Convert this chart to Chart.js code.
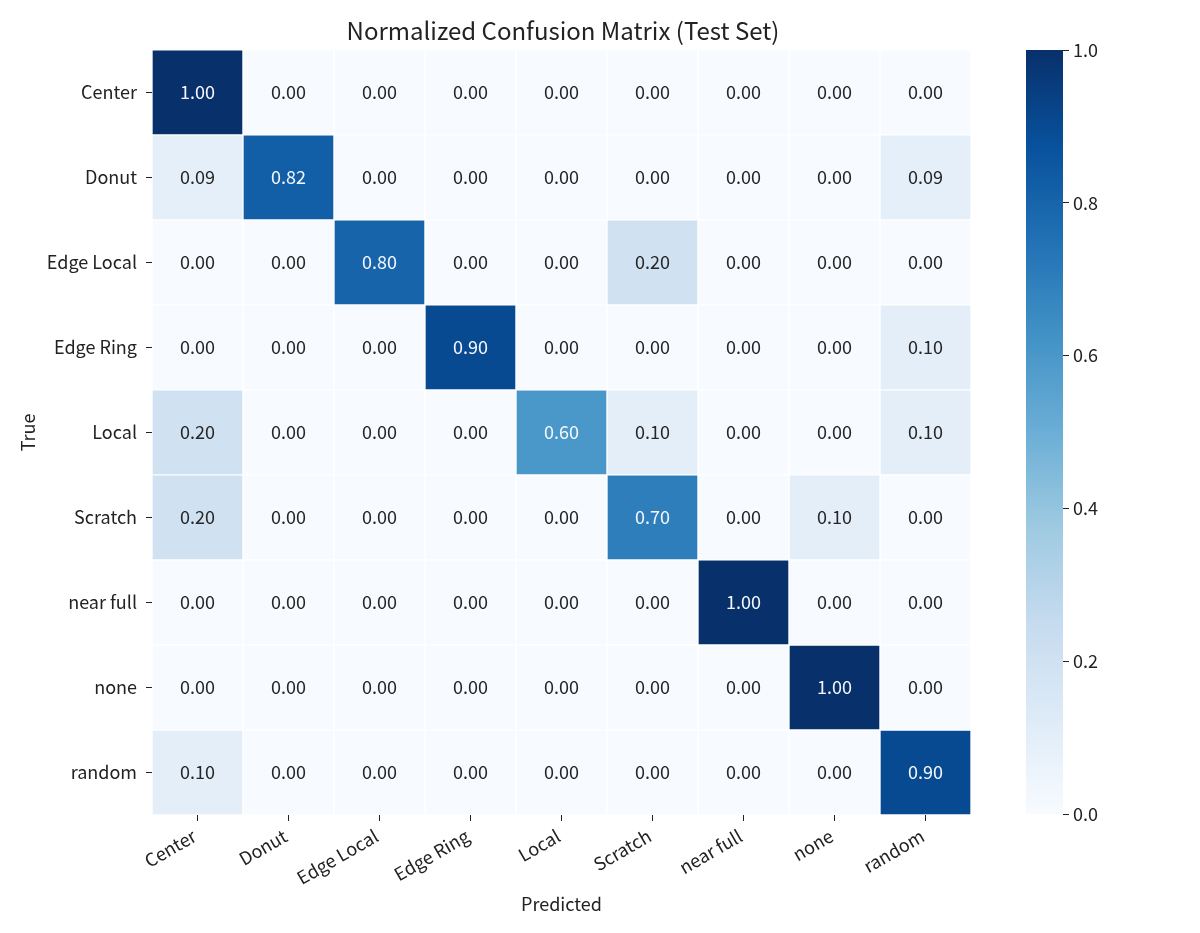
<!DOCTYPE html>
<html>
<head>
<meta charset="utf-8">
<script src="https://cdn.jsdelivr.net/npm/chart.js@4.4.0/dist/chart.umd.min.js"></script>
<style>
  body { margin: 0; background: #fff; }
  .wrap { position: relative; width: 1200px; height: 933px; }
  canvas { position: absolute; left: 0; top: 0; }
</style>
</head>
<body>
<div class="wrap">
  <canvas id="matrix" width="1200" height="933"></canvas>
  <canvas id="cbar" width="1200" height="933"></canvas>
</div>
<script>
// 축 라벨
const predLabels = ['Center', 'Donut', 'Edge Local', 'Edge Ring', 'Local', 'Scratch', 'near full', 'none', 'random'];
const trueLabels = ['Center', 'Donut', 'Edge Local', 'Edge Ring', 'Local', 'Scratch', 'near full', 'none', 'random'];

// 행별 값 (True 기준)
const rowCenter    = [1.00, 0.00, 0.00, 0.00, 0.00, 0.00, 0.00, 0.00, 0.00];
const rowDonut     = [0.09, 0.82, 0.00, 0.00, 0.00, 0.00, 0.00, 0.00, 0.09];
const rowEdgeLocal = [0.00, 0.00, 0.80, 0.00, 0.00, 0.20, 0.00, 0.00, 0.00];
const rowEdgeRing  = [0.00, 0.00, 0.00, 0.90, 0.00, 0.00, 0.00, 0.00, 0.10];
const rowLocal     = [0.20, 0.00, 0.00, 0.00, 0.60, 0.10, 0.00, 0.00, 0.10];
const rowScratch   = [0.20, 0.00, 0.00, 0.00, 0.00, 0.70, 0.00, 0.10, 0.00];
const rowNearFull  = [0.00, 0.00, 0.00, 0.00, 0.00, 0.00, 1.00, 0.00, 0.00];
const rowNone      = [0.00, 0.00, 0.00, 0.00, 0.00, 0.00, 0.00, 1.00, 0.00];
const rowRandom    = [0.10, 0.00, 0.00, 0.00, 0.00, 0.00, 0.00, 0.00, 0.90];
const rows = [rowCenter, rowDonut, rowEdgeLocal, rowEdgeRing, rowLocal, rowScratch, rowNearFull, rowNone, rowRandom];

const cbarTicks = [0, 0.2, 0.4, 0.6, 0.8, 1.0];

// matplotlib Blues
const blues = [
  [247, 251, 255], [222, 235, 247], [198, 219, 239], [158, 202, 225], [107, 174, 214],
  [66, 146, 198], [33, 113, 181], [8, 81, 156], [8, 48, 107]
];

function bluesRgb(v) {
  const t = Math.max(0, Math.min(1, v)) * (blues.length - 1);
  const i = Math.min(Math.floor(t), blues.length - 2);
  const f = t - i;
  return blues[i].map((c, k) => Math.round(c + (blues[i + 1][k] - c) * f));
}
function bluesColor(v) {
  const c = bluesRgb(v);
  return 'rgb(' + c[0] + ',' + c[1] + ',' + c[2] + ')';
}
function textColor(v) {
  const c = bluesRgb(v).map(x => {
    x = x / 255;
    return x <= 0.03928 ? x / 12.92 : Math.pow((x + 0.055) / 1.055, 2.4);
  });
  const lum = 0.2126 * c[0] + 0.7152 * c[1] + 0.0722 * c[2];
  return lum > 0.408 ? '#262626' : '#f4f7fb';
}

const FONT = "'Noto Sans CJK KR', 'Noto Sans', sans-serif";
Chart.defaults.font.family = FONT;
Chart.defaults.color = '#222';

// 셀 값 표시
const cellText = {
  id: 'cellText',
  afterDatasetsDraw(chart) {
    const ctx = chart.ctx;
    ctx.save();
    ctx.font = '18px ' + FONT;
    ctx.textAlign = 'center';
    ctx.textBaseline = 'middle';
    chart.data.datasets.forEach((ds, di) => {
      const meta = chart.getDatasetMeta(di);
      meta.data.forEach((el, j) => {
        const v = rows[di][j];
        ctx.fillStyle = textColor(v);
        ctx.fillText(v.toFixed(2), el.x, (el.y + el.base) / 2);
      });
    });
    ctx.restore();
  }
};

const datasets = rows.map((row, r) => ({
  label: trueLabels[r],
  data: row.map(() => [r, r + 1]),
  backgroundColor: row.map(v => bluesColor(v)),
  borderColor: '#ffffff',
  borderWidth: 1,
  borderSkipped: false,
  grouped: false,
  barPercentage: 1,
  categoryPercentage: 1
}));

new Chart(document.getElementById('matrix'), {
  type: 'bar',
  data: { labels: predLabels, datasets: datasets },
  plugins: [cellText],
  options: {
    responsive: false,
    animation: false,
    layout: { padding: { left: 0, right: 74, top: 0, bottom: 0 } },
    plugins: {
      legend: { display: false },
      tooltip: { enabled: false },
      title: {
        display: true,
        text: 'Normalized Confusion Matrix (Test Set)',
        color: '#222',
        font: { size: 24, weight: 'normal' },
        padding: { top: 16, bottom: 5 }
      }
    },
    scales: {
      x: {
        type: 'category',
        offset: true,
        border: { display: false },
        grid: { offset: false, drawOnChartArea: false, drawTicks: true, tickLength: 6, color: '#222' },
        ticks: { autoSkip: false, minRotation: 30, maxRotation: 30, font: { size: 18 }, padding: 4, labelOffset: -3 },
        title: { display: true, text: 'Predicted', font: { size: 18 }, padding: { top: 4, bottom: 18 } },
        afterFit: (scale) => { scale.height = 118; }
      },
      y: {
        type: 'linear',
        min: 0,
        max: 9,
        reverse: true,
        border: { display: false },
        grid: { drawOnChartArea: false, drawTicks: true, tickLength: 6, color: '#222' },
        afterBuildTicks: (scale) => {
          scale.ticks = trueLabels.map((_, i) => ({ value: i + 0.5 }));
        },
        ticks: {
          font: { size: 18 },
          padding: 9,
          callback: (v) => trueLabels[Math.floor(v)]
        },
        title: { display: true, text: 'True', font: { size: 18 }, padding: { top: 17, bottom: 4 } },
        afterFit: (scale) => { scale.width = 152; }
      },
      // 오른쪽 여백용 (컬러바 자리)
      spacer: {
        type: 'linear',
        position: 'right',
        border: { display: false },
        grid: { display: false },
        ticks: { display: false },
        afterFit: (scale) => { scale.width = 155; }
      }
    }
  }
});

// 컬러바
new Chart(document.getElementById('cbar'), {
  type: 'bar',
  data: {
    labels: [''],
    datasets: [{
      data: [[0, 1]],
      borderWidth: 0,
      barPercentage: 1,
      categoryPercentage: 1,
      backgroundColor: (context) => {
        const area = context.chart.chartArea;
        if (!area) return bluesColor(0);
        const g = context.chart.ctx.createLinearGradient(0, area.bottom, 0, area.top);
        blues.forEach((c, i) => g.addColorStop(i / (blues.length - 1), 'rgb(' + c.join(',') + ')'));
        return g;
      }
    }]
  },
  options: {
    responsive: false,
    animation: false,
    layout: { padding: { left: 1026, right: 77, top: 50, bottom: 119 } },
    plugins: { legend: { display: false }, tooltip: { enabled: false } },
    scales: {
      x: { display: false },
      y: {
        position: 'right',
        min: 0,
        max: 1,
        border: { display: false },
        grid: { drawOnChartArea: false, drawTicks: true, tickLength: 6, color: '#222' },
        afterBuildTicks: (scale) => {
          scale.ticks = cbarTicks.map(v => ({ value: v }));
        },
        ticks: { font: { size: 18 }, padding: 4, callback: (v) => v.toFixed(1) },
        afterFit: (scale) => { scale.width = 60; }
      }
    }
  }
});
</script>
</body>
</html>
